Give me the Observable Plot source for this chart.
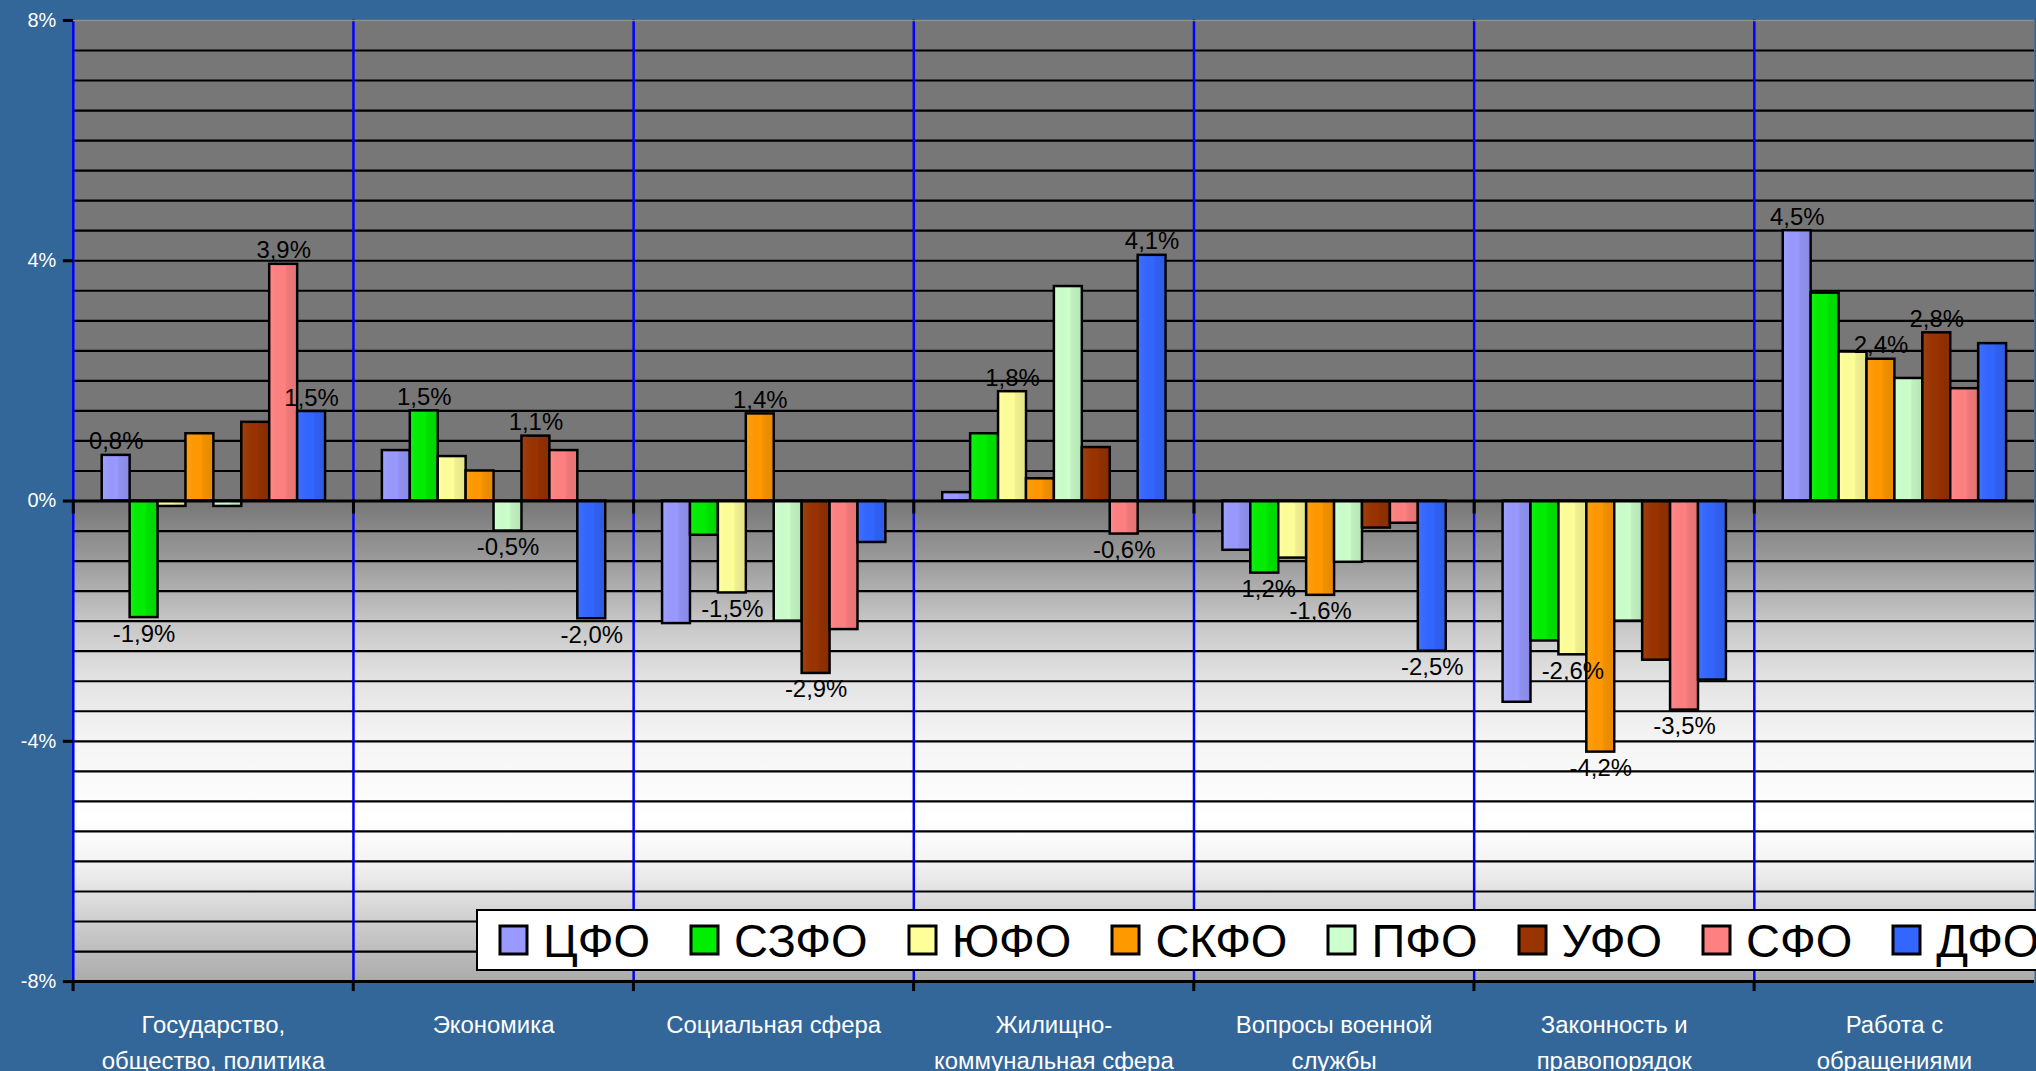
<!DOCTYPE html>
<html><head><meta charset="utf-8">
<script src="https://cdn.jsdelivr.net/npm/d3@7"></script>
<script src="https://cdn.jsdelivr.net/npm/@observablehq/plot@0.6"></script>
<style>
html,body{margin:0;padding:0;overflow:hidden;background:#336699;width:2036px;height:1071px;}
#wrap{position:relative;width:2036px;height:1071px;overflow:hidden;}
#wrap > svg{position:absolute;left:0;top:0;}
#legend{position:absolute;left:476px;top:909px;height:58px;width:1700px;background:#fff;border:2px solid #000;display:flex;align-items:center;padding-left:22px;box-sizing:content-box;}
#legend .leg-swatches{margin:0 !important;min-height:0 !important;font-family:'Liberation Sans',Arial,sans-serif !important;font-size:47px !important;color:#000 !important;flex-wrap:nowrap !important;}
#legend .leg-swatch{margin-right:41px !important;}
#legend .leg-swatch > svg{margin-right:16px !important;overflow:visible;}
#legend .leg-swatch rect{stroke:#000;stroke-width:3px;}
</style></head>
<body><div id="wrap"><div id="legend"></div></div>
<script>
// ---- data ----
const categories = [
  "Государство,\nобщество, политика",
  "Экономика",
  "Социальная сфера",
  "Жилищно-\nкоммунальная сфера",
  "Вопросы военной\nслужбы",
  "Законность и\nправопорядок",
  "Работа с\nобращениями"
];
const series = ["ЦФО", "СЗФО", "ЮФО", "СКФО", "ПФО", "УФО", "СФО", "ДФО"];
const colors = ["#9999ff", "#00ee00", "#ffff99", "#ff9900", "#ccffcc", "#993300", "#ff8080", "#3366ff"];

const cfo  = [0.76, 0.84, -2.04, 0.14, -0.82, -3.35, 4.5];
const szfo = [-1.94, 1.5, -0.57, 1.12, -1.2, -2.33, 3.46];
const yufo = [-0.09, 0.74, -1.53, 1.82, -0.95, -2.56, 2.48];
const skfo = [1.12, 0.5, 1.45, 0.37, -1.57, -4.18, 2.36];
const pfo  = [-0.09, -0.5, -2.0, 3.57, -1.02, -2.0, 2.04];
const ufo  = [1.31, 1.08, -2.87, 0.89, -0.45, -2.65, 2.8];
const sfo  = [3.94, 0.84, -2.14, -0.55, -0.37, -3.48, 1.87];
const dfo  = [1.49, -1.96, -0.69, 4.09, -2.5, -2.98, 2.62];
const valuesBySeries = [cfo, szfo, yufo, skfo, pfo, ufo, sfo, dfo];

// which bars carry a data label, per category
const labeled = [
  ["ЦФО", "СЗФО", "СФО", "ДФО"],
  ["СЗФО", "ПФО", "УФО", "ДФО"],
  ["ЮФО", "СКФО", "УФО"],
  ["ЮФО", "СФО", "ДФО"],
  ["СЗФО", "СКФО", "ДФО"],
  ["ЮФО", "СКФО", "СФО"],
  ["ЦФО", "СКФО", "УФО"]
];
const yTicks = [-8, -4, 0, 4, 8];
const gridStep = 0.5;

// ---- table ----
const data = categories.flatMap((c, i) => series.map((s, j) => ({
  category: c, series: s, value: valuesBySeries[j][i], labeled: labeled[i].includes(s)
})));
const fmt = v => v.toFixed(1).replace(".", ",") + "%";
const pos = data.filter(d => d.labeled && d.value >= 0);
const neg = data.filter(d => d.labeled && d.value < 0);
const gridValues = d3.range(-8 + gridStep, 8, gridStep).filter(v => Math.abs(v) > 1e-9);

const font = "'Liberation Sans', Arial, sans-serif";
const W = 2042, H = 1071, ML = 71, MR = 1, MT = 20, MB = 87;
const facetW = (W - ML - MR) / categories.length;
const plotH = H - MT - MB;

const chart = Plot.plot({
  width: W, height: H,
  marginLeft: ML, marginRight: MR, marginTop: MT, marginBottom: MB,
  style: {background: "transparent", fontFamily: font, overflow: "visible"},
  fx: {domain: categories, padding: 0, label: null},
  x: {domain: series, paddingInner: 0, paddingOuter: 0.97, axis: null},
  y: {domain: [-8, 8], axis: null},
  color: {domain: series, range: colors},
  marks: [
    Plot.frame({fill: "url(#plotBg)", stroke: null}),
    Plot.ruleY(gridValues, {stroke: "#000", strokeWidth: 2.2}),
    Plot.frame({anchor: "left", stroke: "#0000ff", strokeWidth: 2.5}),
    Plot.barY(data, {fx: "category", x: "series", y: "value", fill: "series", stroke: "#000", strokeWidth: 2.5}),
    Plot.barY(data, {fx: "category", x: "series", y: "value", fill: "url(#barShade)", insetLeft: 1.5, insetRight: 1.5}),
    Plot.ruleY([0], {stroke: "#000", strokeWidth: 3}),
    Plot.frame({anchor: "left", stroke: "#000", strokeWidth: 3, insetTop: plotH / 2, insetBottom: plotH / 2 - 11}),
    Plot.ruleY([-8], {stroke: "#000", strokeWidth: 3}),
    Plot.ruleY([8], {stroke: "#8f8f8f", strokeWidth: 1.5}),
    Plot.text(pos, {fx: "category", x: "series", y: "value", text: d => fmt(d.value), lineAnchor: "bottom", dy: -6, fontSize: 24, fill: "#000"}),
    Plot.text(neg, {fx: "category", x: "series", y: "value", text: d => fmt(d.value), lineAnchor: "top", dy: 7, fontSize: 24, fill: "#000"}),
    Plot.axisY({ticks: yTicks, tickFormat: d => d + "%", tickSize: 10, tickPadding: 7, line: true, stroke: "#000", strokeWidth: 3, fill: "#fff", fontSize: 20, label: null}),
    Plot.axisFx({anchor: "bottom", tickSize: 0, tickPadding: 26, fontSize: 24, fill: "#fff", lineHeight: 1.5, label: null}),
    Plot.axisFx({anchor: "bottom", tickSize: 10, tickFormat: () => "", dx: -facetW / 2, stroke: "#000", strokeWidth: 3, label: null})
  ]
});

d3.select(chart).append("defs").html(`
  <linearGradient id="plotBg" x1="0" y1="0" x2="0" y2="1">
    <stop offset="0" stop-color="#777777"/>
    <stop offset="0.5" stop-color="#777777"/>
    <stop offset="0.56" stop-color="#9a9a9a"/>
    <stop offset="0.622" stop-color="#c4c4c4"/>
    <stop offset="0.684" stop-color="#e2e2e2"/>
    <stop offset="0.747" stop-color="#f4f4f4"/>
    <stop offset="0.83" stop-color="#ffffff"/>
    <stop offset="0.872" stop-color="#f5f5f5"/>
    <stop offset="0.897" stop-color="#e6e6e6"/>
    <stop offset="1" stop-color="#aaaaaa"/>
  </linearGradient>
  <linearGradient id="barShade" x1="0" y1="0" x2="1" y2="0">
    <stop offset="0" stop-color="#fff" stop-opacity="0.06"/>
    <stop offset="0.55" stop-color="#000" stop-opacity="0"/>
    <stop offset="0.65" stop-color="#000" stop-opacity="0.06"/>
    <stop offset="1" stop-color="#000" stop-opacity="0.1"/>
  </linearGradient>`);

const wrap = document.getElementById("wrap");
wrap.insertBefore(chart, wrap.firstChild);

const leg = Plot.legend({
  color: {type: "ordinal", domain: series, range: colors},
  className: "leg", swatchWidth: 27, swatchHeight: 28,
  style: {fontSize: "47px", fontFamily: font, color: "#000", background: "transparent"}
});
document.getElementById("legend").appendChild(leg);
</script>
</body></html>
